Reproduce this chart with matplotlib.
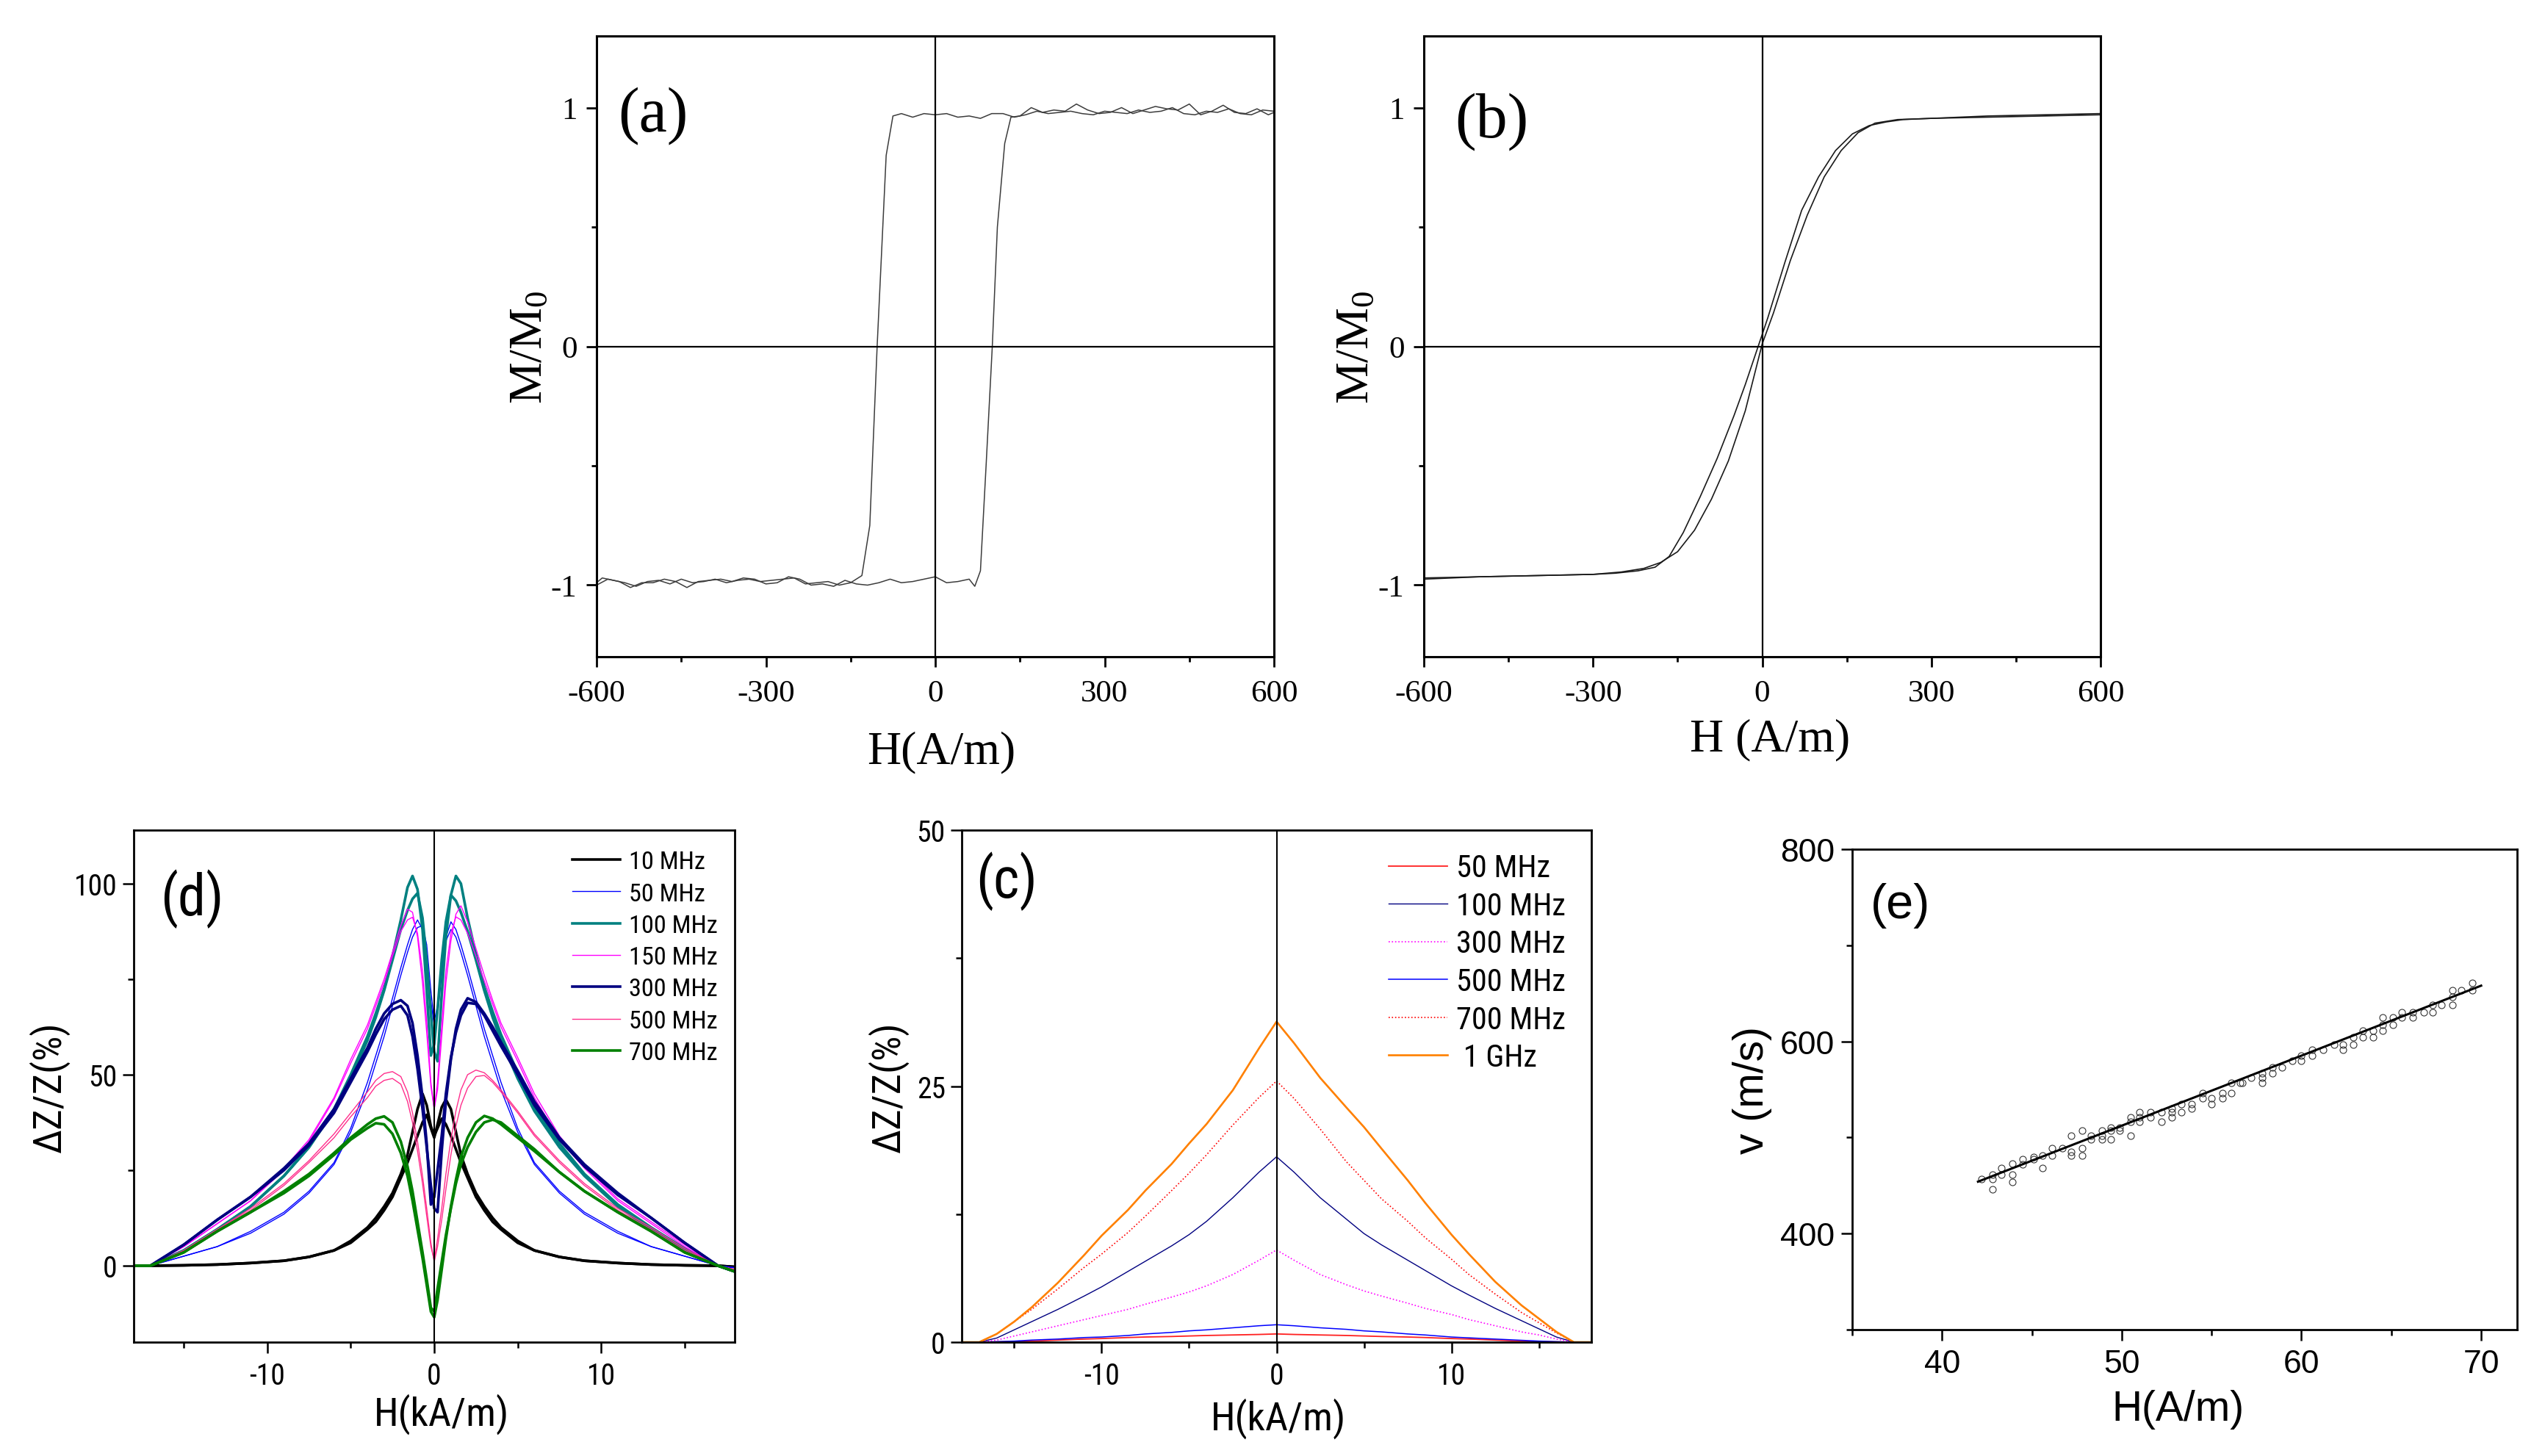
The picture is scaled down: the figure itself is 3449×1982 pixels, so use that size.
import matplotlib
matplotlib.use('Agg')
import matplotlib.pyplot as plt
from matplotlib import font_manager
from matplotlib.font_manager import FontProperties

# ---------------- data ----------------
# (a) square hysteresis loop
Ha_down = [600, 580, 560, 540, 520, 500, 480, 460, 440, 420, 400, 380, 360, 340, 320, 300, 280, 260, 240, 220,
           200, 180, 160, 140, 120, 100, 80, 60, 40, 20, 0, -20, -40, -60, -75, -87, -103, -116, -130,
           -150, -170, -190, -210, -230, -250, -270, -290, -310, -330, -350, -370, -390, -410, -430, -450,
           -470, -490, -510, -530, -550, -570, -590, -600]
Ma_down = [0.985, 0.99, 0.97, 0.975, 0.995, 0.98, 0.985, 0.97, 0.975, 1.0, 0.985, 0.98, 0.99, 0.975, 0.98,
           0.985, 0.97, 0.975, 0.985, 0.98, 0.975, 0.985, 0.97, 0.96, 0.975, 0.975, 0.955, 0.965, 0.96, 0.975,
           0.97, 0.975, 0.96, 0.975, 0.965, 0.80, 0.0, -0.75, -0.96,
           -0.99, -1.0, -0.985, -0.99, -0.995, -0.97, -0.975, -0.98, -0.985, -0.975, -0.98, -0.99, -0.975,
           -0.985, -0.99, -0.975, -0.995, -0.98, -0.985, -1.005, -0.99, -0.98, -0.97, -0.99]
Ha_up = [-600, -580, -560, -540, -520, -500, -480, -460, -440, -420, -400, -380, -360, -340, -320, -300,
         -280, -260, -240, -220, -200, -180, -160, -140, -120, -100, -80, -60, -40, -20, 0, 20, 40, 60,
         70, 80, 90, 101, 110, 123, 134, 150, 170, 190, 210, 230, 250, 270, 290, 310, 330, 350, 370, 390,
         410, 430, 450, 470, 490, 510, 530, 550, 570, 590, 600]
Ma_up = [-1.0, -0.975, -0.985, -1.01, -0.99, -0.99, -0.975, -0.985, -1.01, -0.985, -0.98, -0.975, -0.985,
         -0.97, -0.975, -0.995, -0.99, -0.965, -0.975, -1.0, -0.995, -1.005, -0.98, -0.995, -1.0, -0.99,
         -0.975, -0.99, -0.985, -0.975, -0.965, -0.99, -0.985, -0.975,
         -1.005, -0.94, -0.5, 0.0, 0.5, 0.85, 0.96, 0.965, 1.0, 0.98, 0.99, 0.985, 1.015, 0.99, 0.975, 0.98,
         1.0, 0.975, 0.99, 1.005, 0.995, 0.99, 1.015, 0.97, 0.985, 1.01, 0.98, 0.975, 0.995, 0.97, 0.98]

# (b) narrow S-shaped loop
Hb_desc = [600, 500, 400, 300, 250, 220, 190, 160, 130, 100, 70, 40, 10, -10, -30, -50, -80, -110, -140,
           -165, -190, -220, -260, -300, -400, -500, -600]
Mb_desc = [0.975, 0.97, 0.965, 0.955, 0.95, 0.94, 0.925, 0.89, 0.82, 0.71, 0.57, 0.35, 0.12, -0.02, -0.16,
           -0.29, -0.47, -0.63, -0.78, -0.88, -0.925, -0.94, -0.95, -0.955, -0.96, -0.965, -0.97]
Hb_asc = [-600, -500, -400, -300, -250, -210, -180, -150, -120, -90, -60, -30, 0, 20, 50, 80, 110, 140, 170,
          200, 240, 300, 400, 500, 600]
Mb_asc = [-0.975, -0.965, -0.96, -0.955, -0.945, -0.93, -0.905, -0.86, -0.77, -0.64, -0.48, -0.27, 0.01,
          0.14, 0.36, 0.55, 0.71, 0.82, 0.895, 0.935, 0.95, 0.955, 0.96, 0.965, 0.97]

# (d) GMI ratio vs field, two sweep branches per frequency
Hd = [-18, -17, -15, -13, -11, -9, -7.5, -6, -5, -4, -3.5, -3, -2.5, -2, -1.6, -1.3, -1, -0.7, -0.45, -0.2,
      0, 0.2, 0.45, 0.7, 1, 1.3, 1.6, 2, 2.5, 3, 3.5, 4, 5, 6, 7.5, 9, 11, 13, 15, 17, 18]
d10_a = [0, 0, 0.1, 0.3, 0.7, 1.3, 2.3, 4, 6.5, 10, 12.5, 15.5, 19, 24, 29, 35, 41, 45, 42, 36.5, 34, 36,
         38.5, 37, 34, 30.5, 27, 23, 18, 14.5, 11.5, 9.5, 6, 4, 2.3, 1.3, 0.7, 0.3, 0.1, 0, -0.3]
d10_b = [0, 0, 0.1, 0.3, 0.7, 1.3, 2.3, 4, 6, 9.5, 11.5, 14.5, 18, 23, 27, 30.5, 34, 37.5, 39.5, 36, 33.5,
         37, 41.5, 43.5, 41, 35, 29, 24, 19, 15.5, 12.5, 10, 6.5, 4, 2.3, 1.3, 0.7, 0.3, 0.1, 0, -0.3]
d50_a = [0, 0, 2.5, 5, 9, 14, 19.5, 27, 36, 48, 55, 62, 70, 78, 84, 88, 90.5, 88, 80, 69, 63, 66, 76, 85, 88,
         86, 82, 76, 68, 60, 53, 46, 35, 26.5, 19, 13.5, 8.5, 5, 2.5, 0, -0.5]
d50_b = [0, 0, 2.5, 5, 8.5, 13.5, 19, 26.5, 35, 46, 53, 60, 68, 76, 82, 86, 88.5, 89, 84, 72, 64, 68, 78, 86,
         90, 88, 84, 78, 70, 62, 55, 48, 36, 27, 19.5, 14, 9, 5, 2.5, 0, -0.5]
d100_a = [0, 0, 4, 9.5, 15.5, 23.5, 31, 41, 50, 60, 66, 72.5, 81, 90.5, 99, 102, 98.5, 88, 72, 55, 58, 67,
          80, 90, 97, 95.5, 92.5, 87.5, 80, 72, 65, 59, 49, 40.5, 31, 23.5, 15.5, 9.5, 4, 0, -1.5]
d100_b = [0, 0, 4, 9.5, 15.5, 23.5, 31, 40.5, 49, 59, 65, 72, 80, 88, 93, 96, 97.5, 91, 80, 66, 56, 53.5,
          71, 86, 97, 102, 100, 91, 81.5, 73, 66.5, 60.5, 50.5, 41.5, 32, 24, 16, 10, 4.5, 0, -1.5]
d150_a = [0, 0, 5, 11, 17, 25.5, 33, 44, 54, 63, 69, 75, 82, 89, 93.3, 92.5, 86, 74, 61, 47, 41, 48, 63, 77,
          87, 91.3, 90.5, 87, 81, 74.5, 68.5, 62.5, 53.5, 44, 33, 25.5, 17, 11, 5, 0, -1]
d150_b = [0, 0, 5, 11, 17, 25, 32.5, 43.5, 53, 62, 68, 74, 81, 87.5, 90.5, 91.2, 87, 77, 64, 48, 41, 46, 60,
          74, 85, 92, 94.2, 90, 83, 76, 69.5, 63.5, 54.5, 45, 34, 26, 17.5, 11.5, 5.5, 0, -1]
d300_a = [0, 0, 5.5, 12, 18, 25.5, 32, 41, 49, 57, 62, 66, 68.5, 69.5, 68, 63.5, 55, 44, 32, 16, 18, 25, 34,
          45, 54.5, 61, 65.5, 68.8, 68.5, 65.5, 61.5, 57.5, 50, 42, 33, 26, 18.5, 12.5, 6, 0, -1.5]
d300_b = [0, 0, 5.5, 12, 18, 25, 31.5, 40, 48, 56, 60.5, 64.5, 67, 68, 65.5, 60, 51.5, 41, 31, 21, 15, 14,
          30, 43, 54, 62, 67, 70, 69, 66, 62.5, 58.5, 51, 43, 33.5, 26.5, 19, 12.5, 6, 0, -1.5]
d500_a = [0, 0, 4, 9.5, 15, 21.5, 27.5, 34.5, 40, 45.5, 48.5, 50.3, 50.8, 49.5, 45.5, 40, 32.5, 23.5, 15, 6,
          1, 5, 12, 20, 29, 36.5, 42, 46.5, 49.5, 49.8, 48, 45.5, 40, 34, 27, 21, 14.5, 9.5, 4, 0, -1]
d500_b = [0, 0, 4, 9.5, 14.5, 21, 27, 33.5, 39, 44, 47, 48.5, 49, 47.5, 43, 37.5, 30, 21.5, 13, 5, 1.5, 7,
          15, 24, 33, 40.5, 46, 50, 51.2, 50.5, 48.5, 46, 40.5, 34.5, 27.5, 21.5, 15, 10, 4.5, 0, -1]
d700_a = [0, 0, 3.5, 9, 14, 19.5, 24, 29.5, 33.5, 37, 38.5, 39.1, 37.5, 32.5, 26, 19.5, 11.5, 3.5, -3.5,
          -11, -12, -6, 1, 8, 15, 21.5, 26.5, 31, 35, 37.5, 38.2, 37.5, 34, 30.5, 24.5, 19.5, 14, 9, 3.5, 0,
          -1.5]
d700_b = [0, 0, 3.5, 9, 14, 19, 23.5, 29, 33, 36, 37.3, 37, 34.5, 29.5, 23.5, 17, 9.5, 2, -5, -12, -13.5,
          -9, -1, 7, 15.5, 22.5, 28.5, 33.5, 37.5, 39.2, 38.5, 37, 33.5, 30, 24.5, 19.5, 14, 9, 3.5, 0, -1.5]
d_labels = ['10 MHz', '50 MHz', '100 MHz', '150 MHz', '300 MHz', '500 MHz', '700 MHz']

# (c) GMI ratio, second sample
Hc = [-18, -17, -16, -15, -14, -12.5, -11, -10, -8.5, -7.5, -6, -5, -4, -2.5, -1, 0,
      1, 2.5, 4, 5, 6, 7.5, 8.5, 10, 11, 12.5, 14, 15, 16, 17, 18]
c50 = [0, 0, 0.02, 0.05, 0.1, 0.2, 0.3, 0.35, 0.45, 0.5, 0.55, 0.6, 0.65, 0.7, 0.75, 0.8,
       0.75, 0.7, 0.65, 0.6, 0.55, 0.5, 0.45, 0.35, 0.3, 0.2, 0.1, 0.05, 0.02, 0, 0]
c100 = [0, 0, 0.4, 1.2, 2.0, 3.2, 4.5, 5.4, 6.9, 7.9, 9.4, 10.5, 11.8, 14.1, 16.6, 18.1,
        16.6, 14.1, 12.0, 10.6, 9.5, 8.0, 7.0, 5.5, 4.6, 3.3, 2.1, 1.3, 0.5, 0, 0]
c300 = [0, 0, 0.2, 0.6, 1.0, 1.6, 2.2, 2.6, 3.2, 3.7, 4.4, 4.9, 5.5, 6.6, 8.0, 9.0,
        8.0, 6.6, 5.6, 5.0, 4.5, 3.8, 3.3, 2.7, 2.2, 1.6, 1.0, 0.7, 0.3, 0, 0]
c500 = [0, 0, 0.05, 0.1, 0.2, 0.3, 0.45, 0.5, 0.65, 0.8, 0.95, 1.1, 1.2, 1.4, 1.6, 1.7,
        1.6, 1.4, 1.25, 1.1, 1.0, 0.8, 0.7, 0.5, 0.42, 0.3, 0.18, 0.1, 0.05, 0, 0]
c700 = [0, 0, 0.8, 2.0, 3.2, 5.2, 7.3, 8.6, 10.7, 12.3, 14.8, 16.5, 18.3, 21.2, 23.9, 25.5,
        23.8, 20.8, 17.6, 15.8, 14.0, 11.8, 10.2, 8.1, 6.6, 4.7, 2.9, 1.9, 0.9, 0, 0]
c1000 = [0, 0, 0.8, 2.0, 3.4, 5.8, 8.5, 10.4, 12.9, 14.8, 17.4, 19.4, 21.3, 24.6, 28.7, 31.3,
         29.2, 25.8, 22.9, 21.0, 18.9, 15.8, 13.6, 10.5, 8.6, 5.9, 3.6, 2.3, 1.0, 0, 0]
c_labels = ['50 MHz', '100 MHz', '300 MHz', '500 MHz', '700 MHz', ' 1 GHz']

# (e) velocity vs field
He = [42.2, 42.8, 42.8, 42.8, 43.3, 43.3, 43.9, 43.9, 43.9, 44.5, 44.5, 45.1, 45.1, 45.6, 45.6, 46.1, 46.1,
      46.7, 47.2, 47.2, 47.2, 47.8, 47.8, 47.8, 48.3, 48.3, 48.9, 48.9, 48.9, 49.4, 49.4, 49.4, 49.9, 49.9,
      50.5, 50.5, 50.5, 51.0, 51.0, 51.0, 51.6, 51.6, 52.2, 52.2, 52.8, 52.8, 52.8, 53.3, 53.3, 53.9, 53.9,
      54.5, 54.5, 55.0, 55.0, 55.6, 55.6, 56.1, 56.1, 56.6, 56.7, 57.2, 57.8, 57.8, 57.8, 58.4, 58.4, 58.9,
      59.5, 60.0, 60.0, 60.6, 60.6, 61.2, 61.8, 62.3, 62.3, 62.9, 62.9, 63.4, 63.4, 64.0, 64.0, 64.5, 64.5,
      64.5, 65.1, 65.1, 65.6, 65.6, 66.2, 66.2, 66.8, 67.3, 67.3, 67.8, 68.4, 68.4, 68.4, 68.9, 69.5, 69.5]
Ve = [457, 461, 457, 446, 468, 461, 473, 461, 454, 477, 472, 480, 477, 481, 468, 489, 481,
      489, 502, 485, 481, 489, 507, 481, 502, 498, 507, 498, 502, 510, 498, 507, 510, 507,
      521, 502, 516, 526, 516, 521, 526, 521, 526, 516, 530, 526, 521, 535, 526, 535, 530,
      546, 541, 541, 535, 546, 541, 557, 546, 557, 557, 562, 567, 562, 557, 573, 567, 573,
      580, 585, 580, 591, 585, 591, 597, 597, 591, 604, 597, 611, 604, 611, 604, 625, 617,
      611, 625, 617, 630, 625, 630, 625, 630, 638, 630, 638, 653, 646, 638, 653, 661, 653]
He_fit = [42.0, 70.0]
Ve_fit = [454, 658]

# ---------------- fonts ----------------
SERIF = ['Liberation Serif', 'DejaVu Serif']
SANS = ['Liberation Sans', 'DejaVu Sans']


def _normal(f):
    return f.style == 'normal' and str(f.weight).lower() in ('400', 'normal', 'regular', 'book')


_narrow_path = None
nk = 0.9
_prefs = [('Liberation Sans Narrow', None, 1.0), ('Arial Narrow', None, 1.0),
          ('Roboto Condensed', None, 0.95), ('DejaVu Sans', 'condensed', 0.85),
          ('DejaVu Sans Condensed', None, 0.85), ('Noto Sans', 'condensed', 0.95),
          ('Open Sans', 'condensed', 0.92), ('Roboto', 'condensed', 0.95)]
for nm, st, k in _prefs:
    found = [f for f in font_manager.fontManager.ttflist
             if f.name == nm and _normal(f) and (st is None or f.stretch == st)]
    if found:
        _narrow_path = found[0].fname
        nk = k
        break


def NFP(size):
    if _narrow_path:
        return FontProperties(fname=_narrow_path, size=size)
    return FontProperties(family=SANS, size=size)


plt.rcParams['axes.unicode_minus'] = False
plt.rcParams['mathtext.fontset'] = 'custom'
plt.rcParams['mathtext.rm'] = 'Liberation Serif'
plt.rcParams['mathtext.it'] = 'Liberation Serif:italic'

W, H = 3449, 1983
fig = plt.figure(figsize=(W / 100, H / 100), dpi=100)


def add_ax(L, R, T, B):
    return fig.add_axes([L / W, 1 - B / H, (R - L) / W, (B - T) / H])


def style(ax, spw, majlen, minlen, tw, xpad, ypad):
    for s in ax.spines.values():
        s.set_linewidth(spw)
    ax.tick_params(which='both', direction='out', width=tw, top=False, right=False)
    ax.tick_params(which='major', length=majlen)
    ax.tick_params(which='minor', length=minlen)
    ax.tick_params(axis='x', which='major', pad=xpad)
    ax.tick_params(axis='y', which='major', pad=ypad)


def labels(ax, xl, yl, xc, yc, fp):
    ax.set_xlabel(xl, fontproperties=fp)
    ax.set_ylabel(yl, fontproperties=fp)
    ax.xaxis.set_label_coords(*xc)
    ax.yaxis.set_label_coords(*yc)
    ax.xaxis.label.set_va('center')
    ax.yaxis.label.set_va('center')


SFP = lambda s: FontProperties(family=SERIF, size=s)
AFP = lambda s: FontProperties(family=SANS, size=s)

# ---------------- (a) ----------------
ax = add_ax(812, 1734, 50, 895)
ax.plot(Ha_up, Ma_up, color='#3c3c3c', lw=1.1)
ax.plot(Ha_down, Ma_down, color='#3c3c3c', lw=1.1)
ax.axhline(0, color='k', lw=1.6)
ax.axvline(0, color='k', lw=1.6)
ax.set_xlim(-600, 600)
ax.set_ylim(-1.3, 1.3)
ax.set_xticks([-600, -300, 0, 300, 600], labels=['-600', '-300', '0', '300', '600'], fontproperties=SFP(31))
ax.set_xticks([-450, -150, 150, 450], minor=True)
ax.set_yticks([-1, 0, 1], labels=['-1', '0', '1'], fontproperties=SFP(31))
ax.set_yticks([-0.5, 0.5], minor=True)
style(ax, 2.2, 10, 5, 2.0, 12, 9)
labels(ax, 'H(A/m)', 'M/M$_0$', (0.509, -0.153), (-0.097, 0.5), SFP(46))
ax.text(0.0835, 0.873, '(a)', transform=ax.transAxes, fontproperties=SFP(62), ha='center', va='center')

# ---------------- (b) ----------------
ax = add_ax(1938, 2859, 50, 895)
ax.plot(Hb_desc, Mb_desc, color='#1a1a1a', lw=1.2)
ax.plot(Hb_asc, Mb_asc, color='#1a1a1a', lw=1.2)
ax.axhline(0, color='k', lw=1.6)
ax.axvline(0, color='k', lw=1.6)
ax.set_xlim(-600, 600)
ax.set_ylim(-1.3, 1.3)
ax.set_xticks([-600, -300, 0, 300, 600], labels=['-600', '-300', '0', '300', '600'], fontproperties=SFP(31))
ax.set_xticks([-450, -150, 150, 450], minor=True)
ax.set_yticks([-1, 0, 1], labels=['-1', '0', '1'], fontproperties=SFP(31))
ax.set_yticks([-0.5, 0.5], minor=True)
style(ax, 2.2, 10, 5, 2.0, 12, 9)
labels(ax, 'H (A/m)', 'M/M$_0$', (0.511, -0.1325), (-0.098, 0.5), SFP(46))
ax.text(0.100, 0.863, '(b)', transform=ax.transAxes, fontproperties=SFP(62), ha='center', va='center')

# ---------------- (d) ----------------
ax = add_ax(182, 1000, 1131, 1828)
d_series = [(d10_a, d10_b), (d50_a, d50_b), (d100_a, d100_b), (d150_a, d150_b),
            (d300_a, d300_b), (d500_a, d500_b), (d700_a, d700_b)]
d_colors = ['#000000', '#0000FF', '#008080', '#FF00FF', '#000080', '#FF2E8C', '#008000']
d_lw = [2.6, 1.0, 2.6, 1.0, 2.6, 1.0, 2.6]
handles = []
for (ya, yb), c, lw, lab in zip(d_series, d_colors, d_lw, d_labels):
    h, = ax.plot(Hd, ya, color=c, lw=lw, label=lab)
    ax.plot(Hd, yb, color=c, lw=lw)
    handles.append(h)
ax.axvline(0, color='k', lw=1.5)
ax.set_xlim(-18, 18)
ax.set_ylim(-20, 114)
ax.set_xticks([-10, 0, 10], labels=['-10', '0', '10'], fontproperties=NFP(30 * nk))
ax.set_xticks([-15, -5, 5, 15], minor=True)
ax.set_yticks([0, 50, 100], labels=['0', '50', '100'], fontproperties=NFP(30 * nk))
ax.set_yticks([25, 75], minor=True)
style(ax, 2.0, 11, 6, 1.8, 8, 5)
labels(ax, 'H(kA/m)', 'ΔZ/Z(%)', (0.512, -0.139), (-0.141, 0.5), NFP(41 * nk))
ax.text(0.097, 0.867, '(d)', transform=ax.transAxes, fontproperties=NFP(58 * nk), ha='center', va='center')
ax.legend(handles=handles, loc='upper left', bbox_to_anchor=(0.73, 0.961), frameon=False, borderpad=0,
          borderaxespad=0, handlelength=1.9, handletextpad=0.33, labelspacing=0.33,
          prop=NFP(26 * nk))

# ---------------- (c) ----------------
ax = add_ax(1309, 2166, 1131, 1828)
c_series = [c50, c100, c300, c500, c700, c1000]
c_colors = ['#FF2020', '#000080', '#FF00FF', '#0000FF', '#FF0000', '#FF8000']
c_ls = ['-', '-', ':', '-', ':', '-']
c_lw = [1.3, 1.0, 1.2, 1.1, 1.2, 1.9]
handles = []
for y, c, ls, lw, lab in zip(c_series, c_colors, c_ls, c_lw, c_labels):
    h, = ax.plot(Hc, y, color=c, ls=ls, lw=lw, label=lab)
    handles.append(h)
ax.axvline(0, color='k', lw=1.5)
ax.set_xlim(-18, 18)
ax.set_ylim(0, 50)
ax.set_xticks([-10, 0, 10], labels=['-10', '0', '10'], fontproperties=NFP(30 * nk))
ax.set_xticks([-15, -5, 5, 15], minor=True)
ax.set_yticks([0, 25, 50], labels=['0', '25', '50'], fontproperties=NFP(30 * nk))
ax.set_yticks([12.5, 37.5], minor=True)
style(ax, 2.0, 11, 6, 1.8, 8, 5)
labels(ax, 'H(kA/m)', 'ΔZ/Z(%)', (0.503, -0.148), (-0.117, 0.5), NFP(41 * nk))
ax.text(0.071, 0.901, '(c)', transform=ax.transAxes, fontproperties=NFP(58 * nk), ha='center', va='center')
ax.legend(handles=handles, loc='upper left', bbox_to_anchor=(0.678, 0.955), frameon=False, borderpad=0,
          borderaxespad=0, handlelength=1.9, handletextpad=0.28, labelspacing=0.25,
          prop=NFP(32 * nk))

# ---------------- (e) ----------------
ax = add_ax(2521, 3426, 1157, 1811)
ax.plot(He, Ve, ls='none', marker='o', ms=6.5, mfc='none', mec='#333333', mew=0.8)
ax.plot(He_fit, Ve_fit, color='k', lw=2.2)
ax.set_xlim(35, 72)
ax.set_ylim(300, 800)
ax.set_xticks([40, 50, 60, 70], labels=['40', '50', '60', '70'], fontproperties=AFP(32))
ax.set_xticks([35, 45, 55, 65], minor=True)
ax.set_yticks([400, 600, 800], labels=['400', '600', '800'], fontproperties=AFP(32))
ax.set_yticks([300, 500, 700], minor=True)
style(ax, 2.0, 11, 6, 1.8, 8, 6)
labels(ax, 'H(A/m)', 'v (m/s)', (0.49, -0.165), (-0.150, 0.5), AFP(41))
ax.text(0.072, 0.884, '(e)', transform=ax.transAxes, fontproperties=AFP(48), ha='center', va='center')

fig.savefig('out.png', dpi=100)
